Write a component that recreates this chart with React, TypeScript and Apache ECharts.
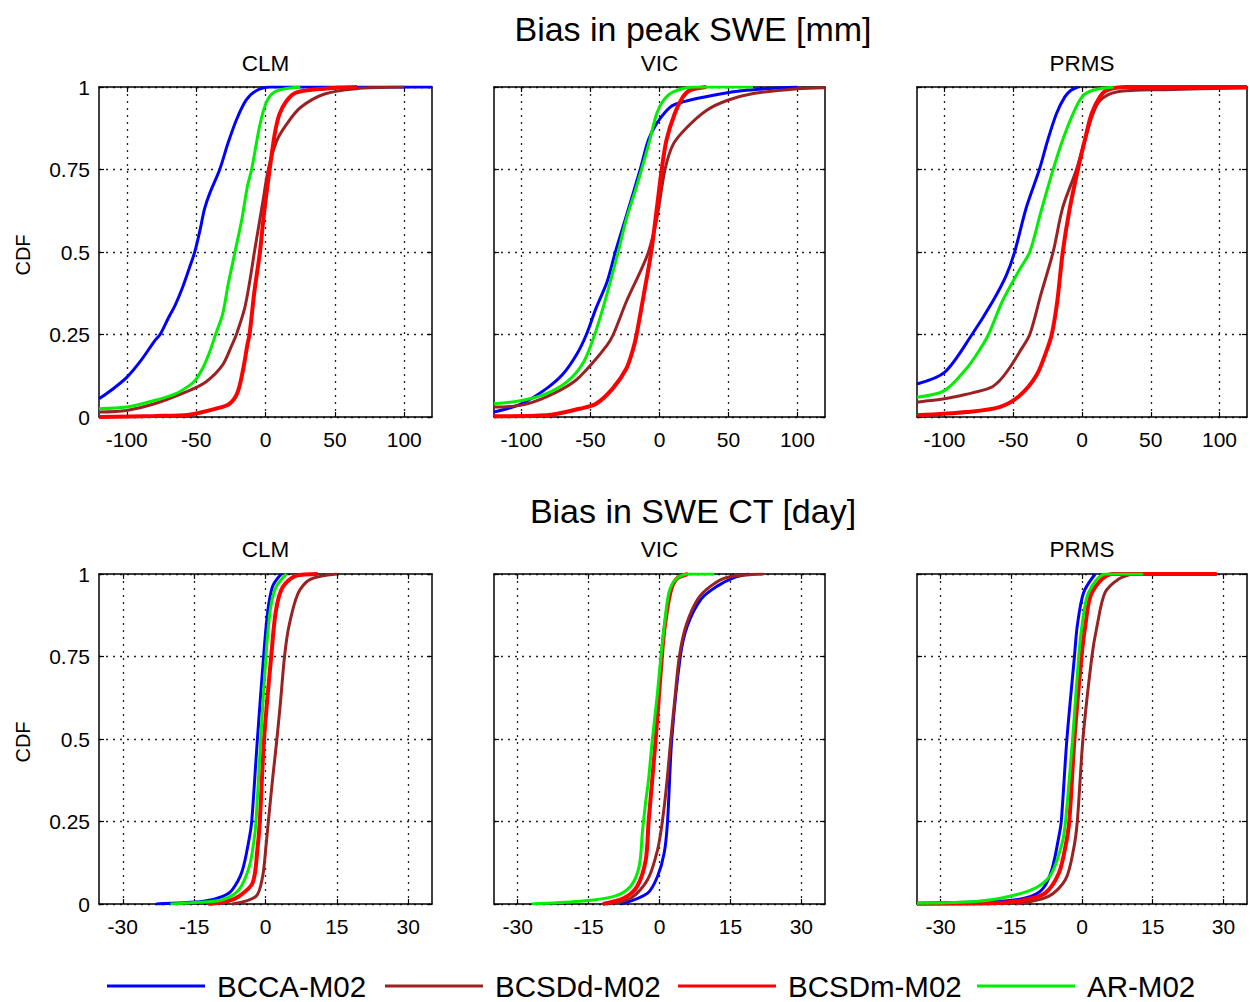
import React, { useEffect, useRef } from "react";
import * as echarts from "echarts";

// ---------- labels ----------
const seriesNames = ["BCCA-M02", "BCSDd-M02", "BCSDm-M02", "AR-M02"];
const seriesColors = ["#0000ff", "#9a2222", "#ff0000", "#00ee00"];
const seriesWidths = [3, 3, 4, 3];
const rowTitles = ["Bias in peak SWE [mm]", "Bias in SWE CT [day]"];
const modelNames = ["CLM", "VIC", "PRMS"];
const yAxisName = "CDF";

// ---------- axes ----------
const peakRange = [-120, 120];
const peakTicks = [-100, -50, 0, 50, 100];
const ctRange = [-35, 35];
const ctTicks = [-30, -15, 0, 15, 30];
const cdfMin = 0;
const cdfMax = 1;
const cdfInterval = 0.25;

// ---------- data: [bias, CDF] ----------
// Peak SWE, CLM
const peakClmBCCA = [[-120,0.055],[-110,0.085],[-100,0.12],[-90,0.17],[-80,0.23],[-76,0.25],[-70,0.3],[-65,0.34],[-60,0.39],[-55,0.45],[-51,0.5],[-47,0.57],[-44,0.63],[-40,0.68],[-33,0.75],[-27,0.83],[-21,0.9],[-14,0.96],[-7,0.988],[3,1],[120,1]];
const peakClmBCSDd = [[-120,0.015],[-100,0.02],[-80,0.04],[-55,0.08],[-43,0.106],[-31,0.157],[-24,0.22],[-21,0.25],[-15,0.33],[-11,0.42],[-8,0.5],[-4,0.6],[-2,0.65],[2,0.75],[8,0.836],[15,0.886],[25,0.937],[42,0.978],[65,0.995],[100,1]];
const peakClmBCSDm = [[-120,0],[-80,0.003],[-55,0.007],[-36,0.025],[-26,0.04],[-20,0.076],[-16,0.147],[-13,0.22],[-11.5,0.25],[-8,0.38],[-4,0.5],[-1,0.62],[3,0.75],[6.6,0.856],[10,0.917],[15,0.957],[22,0.983],[42,0.995],[66,1]];
const peakClmAR = [[-120,0.025],[-100,0.03],[-80,0.05],[-65,0.07],[-55,0.095],[-50,0.115],[-45,0.15],[-40,0.2],[-36,0.25],[-31,0.31],[-27,0.4],[-22,0.5],[-17,0.6],[-13,0.7],[-10,0.75],[-4,0.886],[1,0.957],[8,0.988],[25,1]];
// Peak SWE, VIC
const peakVicBCCA = [[-120,0.015],[-100,0.04],[-82,0.086],[-70,0.13],[-60,0.19],[-53,0.25],[-46,0.33],[-38,0.41],[-32,0.5],[-24,0.61],[-14,0.75],[-8,0.84],[-2,0.89],[8,0.94],[17,0.955],[39,0.975],[63,0.99],[100,1]];
const peakVicBCSDd = [[-120,0.03],[-100,0.036],[-82,0.061],[-62,0.107],[-50,0.157],[-38,0.218],[-33.5,0.25],[-24,0.35],[-14,0.44],[-8,0.5],[-2,0.6],[4,0.75],[10,0.827],[20,0.878],[34,0.929],[49,0.959],[68,0.98],[100,0.995],[120,0.998]];
const peakVicBCSDm = [[-120,0.002],[-82,0.005],[-58,0.025],[-46,0.04],[-34,0.086],[-24,0.147],[-19,0.208],[-16.6,0.25],[-11,0.38],[-6,0.5],[-2,0.63],[1.6,0.75],[5,0.838],[11,0.919],[17,0.97],[22,0.99],[34,1]];
const peakVicAR = [[-120,0.04],[-100,0.05],[-82,0.071],[-67,0.107],[-55,0.167],[-47,0.25],[-41,0.33],[-35,0.42],[-30,0.5],[-24,0.6],[-18,0.68],[-13,0.75],[-7,0.84],[-2,0.92],[3,0.96],[10,0.985],[25,1],[68,1]];
// Peak SWE, PRMS
const peakPrmsBCCA = [[-120,0.1],[-100,0.135],[-80,0.25],[-65,0.35],[-55,0.43],[-49,0.5],[-40.5,0.635],[-31,0.75],[-25,0.838],[-18.6,0.919],[-12.5,0.97],[-8,0.99],[-3,1]];
const peakPrmsBCSDd = [[-120,0.045],[-100,0.055],[-85,0.068],[-67,0.088],[-60,0.11],[-53,0.147],[-45,0.2],[-38,0.25],[-30,0.37],[-21,0.5],[-14,0.635],[-4,0.75],[2,0.838],[8,0.919],[13,0.959],[25,0.985],[60,0.992],[120,0.997]];
const peakPrmsBCSDm = [[-120,0.005],[-84,0.015],[-60,0.03],[-45,0.066],[-33,0.127],[-26,0.198],[-22,0.25],[-18,0.35],[-14,0.5],[-9,0.63],[-3,0.75],[2,0.838],[7,0.919],[13,0.97],[18,0.99],[32,1],[120,1]];
const peakPrmsAR = [[-120,0.06],[-100,0.08],[-84,0.147],[-75,0.2],[-68,0.25],[-58,0.35],[-45,0.45],[-38,0.5],[-30,0.62],[-21,0.75],[-14,0.84],[-6.4,0.92],[0,0.97],[8,0.99],[23,1]];
// SWE CT, CLM
const ctClmBCCA = [[-23,0],[-13,0.008],[-9,0.023],[-7,0.043],[-4.9,0.1],[-3.4,0.2],[-2.9,0.25],[-1.7,0.5],[-0.4,0.75],[0.5,0.89],[1.5,0.963],[3.3,1]];
const ctClmBCSDd = [[-7,0],[-2,0.023],[-0.6,0.084],[0.1,0.175],[0.6,0.25],[1.5,0.38],[2.4,0.5],[3.2,0.62],[4,0.75],[4.9,0.84],[6.8,0.94],[9.3,0.983],[15,1]];
const ctClmBCSDm = [[-12,0],[-8,0.008],[-5.6,0.023],[-2.7,0.064],[-1.7,0.165],[-1.2,0.25],[-0.3,0.5],[1.2,0.75],[2.2,0.89],[3.6,0.96],[6.5,0.995],[11,1]];
const ctClmAR = [[-20,0],[-14,0.005],[-9,0.013],[-5.6,0.043],[-3.4,0.114],[-2.4,0.195],[-2,0.25],[-1,0.5],[0.1,0.75],[1,0.89],[2.2,0.96],[4.4,1]];
// SWE CT, VIC
const ctVicBCCA = [[-8,0],[-2.5,0.033],[-0.4,0.084],[1,0.155],[1.7,0.25],[2.6,0.5],[4.4,0.75],[5.9,0.843],[8.8,0.924],[12.3,0.964],[15.9,0.99],[19,1]];
const ctVicBCSDd = [[-11,0],[-6,0.018],[-2.5,0.074],[-0.4,0.165],[0.6,0.25],[1.5,0.36],[2.4,0.5],[3.3,0.63],[4.2,0.75],[5.6,0.843],[8.1,0.924],[10.9,0.964],[14.4,0.99],[22,1]];
const ctVicBCSDm = [[-12,0],[-7.5,0.018],[-4.7,0.054],[-2.9,0.134],[-2.3,0.25],[-0.8,0.5],[0.5,0.75],[1.1,0.84],[2.3,0.944],[3.6,0.985],[6,1]];
const ctVicAR = [[-27,0],[-17,0.008],[-9.6,0.023],[-6.1,0.054],[-4.3,0.114],[-3.6,0.22],[-3,0.3],[-2.3,0.38],[-1.5,0.5],[-0.5,0.63],[0.3,0.75],[1,0.84],[2,0.944],[3.5,0.985],[6,1],[11.6,1]];
// SWE CT, PRMS
const ctPrmsBCCA = [[-35,0.002],[-17.6,0.008],[-12,0.018],[-8.5,0.043],[-6.4,0.104],[-4.9,0.205],[-4.4,0.25],[-3.2,0.5],[-1.6,0.75],[-1,0.843],[0.35,0.944],[2.8,1]];
const ctPrmsBCSDd = [[-14,0],[-7.1,0.023],[-3.5,0.074],[-1.8,0.165],[-1,0.25],[0.2,0.5],[2.1,0.75],[3.2,0.843],[4.9,0.944],[7.8,0.985],[10.6,1]];
const ctPrmsBCSDm = [[-35,0.001],[-17.6,0.003],[-12,0.013],[-7.8,0.033],[-4.9,0.094],[-3.5,0.175],[-2.7,0.25],[-1.6,0.5],[-0.1,0.75],[0.7,0.843],[2.1,0.944],[6.4,1],[28.6,1]];
const ctPrmsAR = [[-35,0.002],[-22,0.008],[-14,0.028],[-9.2,0.054],[-6.4,0.094],[-4.2,0.185],[-3.5,0.25],[-2,0.5],[-0.7,0.75],[0,0.843],[1.4,0.944],[5,1],[13,1]];

const panelData = [
  [peakClmBCCA, peakClmBCSDd, peakClmBCSDm, peakClmAR],
  [peakVicBCCA, peakVicBCSDd, peakVicBCSDm, peakVicAR],
  [peakPrmsBCCA, peakPrmsBCSDd, peakPrmsBCSDm, peakPrmsAR],
  [ctClmBCCA, ctClmBCSDd, ctClmBCSDm, ctClmAR],
  [ctVicBCCA, ctVicBCSDd, ctVicBCSDm, ctVicAR],
  [ctPrmsBCCA, ctPrmsBCSDd, ctPrmsBCSDm, ctPrmsAR],
];

// ---------- layout ----------
const FONT = '"Liberation Sans", Arial, Helvetica, sans-serif';
const colLefts = [99, 494, 917];
const colWidths = [333, 331, 330];
const rowTops = [87, 574];
const plotHeight = 330;
const legendLefts = [107, 385, 678, 977];

function buildOption() {
  const grids: any[] = [];
  const xAxes: any[] = [];
  const yAxes: any[] = [];
  const series: any[] = [];
  const graphics: any[] = [];
  const mirrorX: any[] = [];
  const mirrorY: any[] = [];

  const axisLine = { show: true, onZero: false, lineStyle: { color: "#000", width: 1.5 } };
  const splitLine = { show: true, lineStyle: { color: "#222", width: 1.3, type: [2, 5] } };

  for (let r = 0; r < 2; r++) {
    const range = r === 0 ? peakRange : ctRange;
    const ticks = r === 0 ? peakTicks : ctTicks;
    for (let c = 0; c < 3; c++) {
      const g = r * 3 + c;
      grids.push({ left: colLefts[c], top: rowTops[r], width: colWidths[c], height: plotHeight, containLabel: false });
      xAxes.push({
        type: "value", gridIndex: g, min: range[0], max: range[1], position: "bottom",
        axisLine,
        axisTick: { show: true, inside: true, length: 5, customValues: ticks, lineStyle: { color: "#000", width: 1.2 } },
        axisLabel: { show: true, customValues: ticks, margin: 12, fontSize: 21, color: "#000", fontFamily: FONT },
        splitLine,
      });
      yAxes.push({
        type: "value", gridIndex: g, min: cdfMin, max: cdfMax, interval: cdfInterval, position: "left",
        axisLine,
        axisTick: { show: true, inside: true, length: 5, lineStyle: { color: "#000", width: 1.2 } },
        axisLabel: { show: c === 0, margin: 9, fontSize: 21, color: "#000", fontFamily: FONT },
        splitLine,
      });
      mirrorX.push({
        type: "value", gridIndex: g, min: range[0], max: range[1], position: "top",
        axisLine,
        axisTick: { show: true, inside: true, length: 5, customValues: ticks, lineStyle: { color: "#000", width: 1.2 } },
        axisLabel: { show: false },
        splitLine: { show: false },
      });
      mirrorY.push({
        type: "value", gridIndex: g, min: cdfMin, max: cdfMax, interval: cdfInterval, position: "right",
        axisLine,
        axisTick: { show: true, inside: true, length: 5, lineStyle: { color: "#000", width: 1.2 } },
        axisLabel: { show: false },
        splitLine: { show: false },
      });
      for (let s = 0; s < 4; s++) {
        series.push({
          type: "line", name: seriesNames[s], xAxisIndex: g, yAxisIndex: g,
          data: panelData[g][s], showSymbol: false, symbol: "none",
          smooth: 0.3, clip: true,
          lineStyle: { color: seriesColors[s], width: seriesWidths[s] },
          itemStyle: { color: seriesColors[s] },
        });
      }
      graphics.push({
        type: "text", x: colLefts[c] + colWidths[c] / 2, y: r === 0 ? 63 : 549,
        style: { text: modelNames[c], font: `22.5px ${FONT}`, fill: "#000", align: "center", verticalAlign: "middle", textAlign: "center", textVerticalAlign: "middle" },
      });
    }
    graphics.push({
      type: "text", x: 693, y: r === 0 ? 29 : 511,
      style: { text: rowTitles[r], font: `34px ${FONT}`, fill: "#000", align: "center", verticalAlign: "middle", textAlign: "center", textVerticalAlign: "middle" },
    });
    graphics.push({
      type: "text", x: 23, y: rowTops[r] + plotHeight / 2 + 3, rotation: Math.PI / 2,
      style: { text: yAxisName, font: `20px ${FONT}`, fill: "#000", align: "center", verticalAlign: "middle", textAlign: "center", textVerticalAlign: "middle" },
    });
  }

  const legends = seriesNames.map((n, i) => ({
    data: [n], left: legendLefts[i], top: 971, padding: 0, itemWidth: 98, itemHeight: 14,
    icon: "path://M0,6 L98,6 L98,9 L0,9 Z",
    itemStyle: { color: seriesColors[i] },
    textStyle: { fontSize: 29.5, color: "#000", fontFamily: FONT, padding: [0, 0, 0, 7] },
    selectedMode: false,
  }));

  return {
    animation: false,
    backgroundColor: "#fff",
    textStyle: { fontFamily: FONT },
    grid: grids,
    xAxis: [...xAxes, ...mirrorX],
    yAxis: [...yAxes, ...mirrorY],
    series,
    legend: legends,
    graphic: graphics,
  };
}

export default function App() {
  const ref = useRef<HTMLDivElement>(null);
  useEffect(() => {
    if (!ref.current) return;
    const chart = echarts.init(ref.current, undefined, { renderer: "svg" });
    chart.setOption(buildOption() as any);
    return () => chart.dispose();
  }, []);
  return <div ref={ref} style={{ position: "fixed", left: 0, top: 0, width: 1250, height: 1002, background: "#fff" }} />;
}
